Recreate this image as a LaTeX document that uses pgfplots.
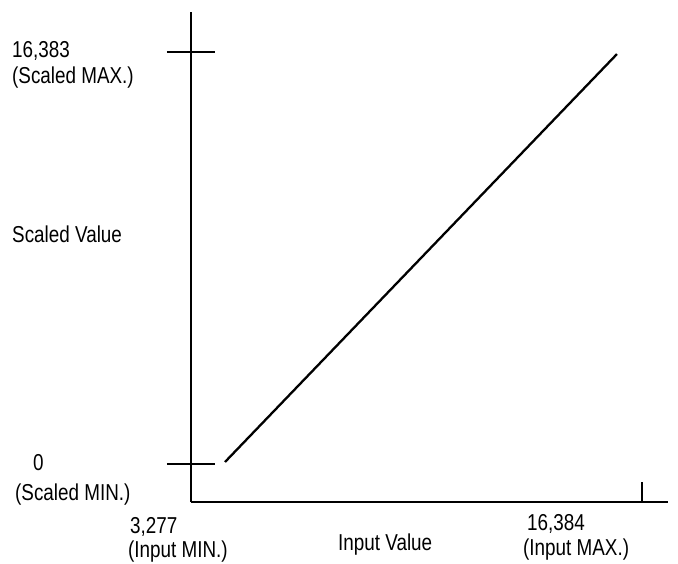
\documentclass[border=0pt]{standalone}
\usepackage{fontspec}
\setmainfont[FakeStretch=0.82]{Liberation Sans}
\usepackage{pgfplots}
\pgfplotsset{compat=1.18}
\begin{document}
\begin{tikzpicture}
\useasboundingbox (0pt,0pt) rectangle (678pt,-563pt);
\begin{axis}[
  at={(191pt,-502pt)}, anchor=south west,
  scale only axis, width=477pt, height=490pt,
  xmin=3277, xmax=17140, ymin=-1511, ymax=17974,
  axis lines=left,
  axis line style={-, line width=2.7pt, black},
  xtick=\empty,
  ytick={0,16383}, yticklabels={},
  ytick align=center, major tick length=48pt,
  tick style={black, line width=2.3pt},
  clip=false,
]
\addplot[black, line width=2.3pt] coordinates {(4265,80) (15657,16302)};
\draw[black, line width=2.3pt] (axis cs:16384,-1511) -- ++(0pt,20pt);
\end{axis}
\begin{scope}[every node/.style={inner sep=0pt, font=\fontsize{23}{27}\selectfont}]
\node[anchor=base west] at (12pt,-57pt) {16,383};
\node[anchor=base west] at (12pt,-83pt) {(Scaled MAX.)};
\node[anchor=base west] at (12pt,-242pt) {Scaled Value};
\node[anchor=base west] at (33pt,-470pt) {0};
\node[anchor=base west] at (15pt,-500pt) {(Scaled MIN.)};
\node[anchor=base west] at (130pt,-533pt) {3,277};
\node[anchor=base west] at (128pt,-557pt) {(Input MIN.)};
\node[anchor=base west] at (338pt,-550pt) {Input Value};
\node[anchor=base west] at (527pt,-530pt) {16,384};
\node[anchor=base west] at (523pt,-555pt) {(Input MAX.)};
\end{scope}
\end{tikzpicture}
\end{document}
